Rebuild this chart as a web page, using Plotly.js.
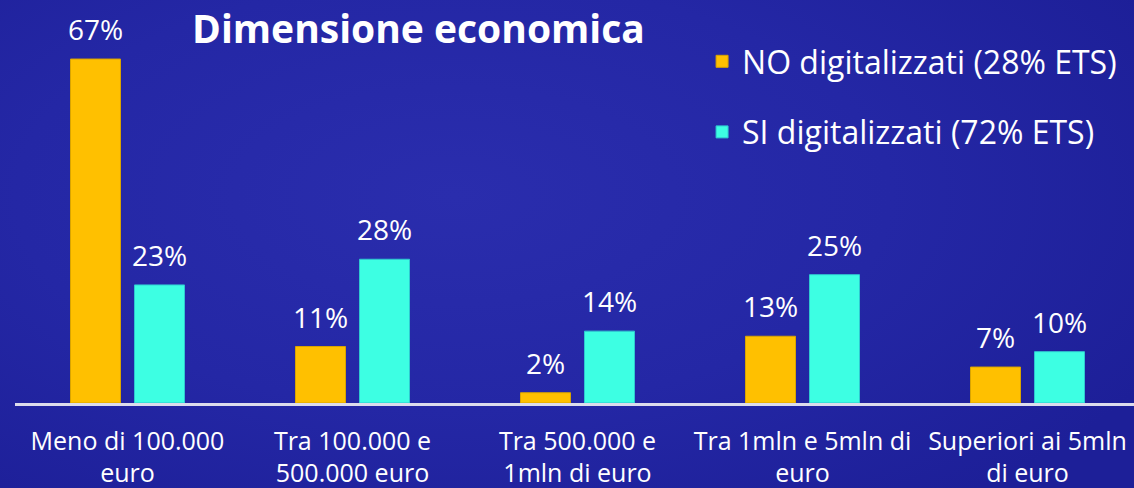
<!DOCTYPE html>
<html>
<head>
<meta charset="utf-8">
<script src="https://cdn.plot.ly/plotly-3.0.1.min.js"></script>
<style>
  html, body { margin: 0; padding: 0; }
  body {
    width: 1134px; height: 488px; overflow: hidden;
    background: radial-gradient(ellipse 70% 80% at 40% 40%, #2a2dad 0%, #2427a5 55%, #1d1f98 100%);
  }
  #chart { width: 1134px; height: 488px; }
</style>
</head>
<body>
<div id="chart"></div>
<script>
const categories = [
  "Meno di 100.000<br>euro",
  "Tra 100.000 e<br>500.000 euro",
  "Tra 500.000 e<br>1mln di euro",
  "Tra 1mln e 5mln di<br>euro",
  "Superiori ai 5mln<br>di euro"
];
const seriesNames = ["NO digitalizzati (28% ETS)", "SI digitalizzati (72% ETS)"];
const noDigitalizzati = [67, 11, 2, 13, 7];
const siDigitalizzati = [23, 28, 14, 25, 10];

const FONT = "Open Sans, Noto Sans, sans-serif";

// layout constants
const W = 1134, H = 488;
const M = { l: 15, r: 0, t: 0, b: 85 };
const X_RANGE = [-0.5, 4.4733];
const BARGAP = 0.431;
const BARGROUPGAP = 0.219;

function barTrace(name, values, color, lineColor, group) {
  return {
    type: "bar",
    name: name,
    x: categories,
    y: values,
    marker: { color: color, line: { color: lineColor, width: 1 } },
    legendgroup: group,
    hoverinfo: "skip"
  };
}

const series = [noDigitalizzati, siDigitalizzati];
const data = [
  barTrace(seriesNames[0], noDigitalizzati, "#FFC000", "#d9a400", "g1"),
  barTrace(seriesNames[1], siDigitalizzati, "#3DFFE3", "#2fc8d0", "g2")
];

// value labels centred over each bar of the grouped layout
const pxPerCat = (W - M.l - M.r) / (X_RANGE[1] - X_RANGE[0]);
const slotPx = pxPerCat * (1 - BARGAP) / series.length;
const annotations = [];
series.forEach((vals, i) => {
  const shift = (i - (series.length - 1) / 2) * slotPx;
  vals.forEach((v, j) => {
    annotations.push({
      x: categories[j], y: v, xref: "x", yref: "y",
      text: v + "%", showarrow: false,
      xanchor: "center", yanchor: "middle",
      xshift: shift, yshift: 30,
      font: { family: FONT, size: 28, color: "#ffffff" }
    });
  });
});

const layout = {
  width: W,
  height: H,
  paper_bgcolor: "rgba(0,0,0,0)",
  plot_bgcolor: "rgba(0,0,0,0)",
  margin: { l: M.l, r: M.r, t: M.t, b: M.b, pad: 0, autoexpand: false },
  font: { family: FONT, color: "#ffffff" },
  title: {
    text: "Dimensione economica",
    font: { family: FONT, size: 39, color: "#ffffff", weight: 700 },
    xref: "container", x: 0.369, xanchor: "center",
    yref: "container", y: 0.94, yanchor: "middle"
  },
  barmode: "group",
  bargap: BARGAP,
  bargroupgap: BARGROUPGAP,
  showlegend: true,
  legend: {
    x: 0.614, xanchor: "left",
    y: 1 - 34 / 403, yanchor: "top",
    font: { family: FONT, size: 32, color: "#ffffff" },
    bgcolor: "rgba(0,0,0,0)",
    traceorder: "grouped",
    tracegroupgap: 26,
    itemclick: false, itemdoubleclick: false
  },
  annotations: annotations,
  xaxis: {
    type: "category",
    range: X_RANGE,
    showline: true,
    linecolor: "#dcdcec",
    linewidth: 2.5,
    showgrid: false,
    zeroline: false,
    ticks: "",
    tickangle: 0,
    ticklabelstandoff: 14,
    tickfont: { family: FONT, size: 25, color: "#ffffff" },
    automargin: false,
    fixedrange: true
  },
  yaxis: {
    range: [0, 78.5],
    visible: false,
    showgrid: false,
    zeroline: false,
    automargin: false,
    fixedrange: true
  }
};

Plotly.newPlot("chart", data, layout, { displayModeBar: false, staticPlot: true });
</script>
</body>
</html>
